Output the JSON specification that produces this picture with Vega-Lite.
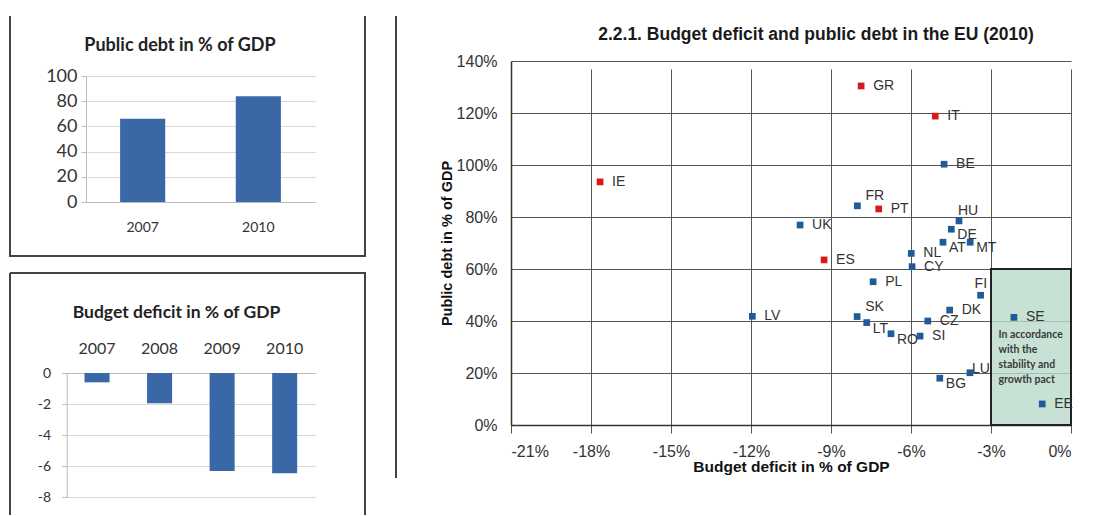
{
  "$schema": "https://vega.github.io/schema/vega-lite/v6.json",
  "background": "white",
  "padding": {"left": 9, "top": 15, "right": 0, "bottom": 0},
  "config": {"font": "Liberation Sans", "view": {"stroke": null}},
  "spacing": 29,
  "hconcat": [
    {
      "spacing": 15,
      "vconcat": [
        {
          "width": 355,
          "height": 240,
          "view": {"stroke": "#444", "strokeWidth": 2, "strokeDash": [835, 355], "strokeDashOffset": 835},
          "title": {"text": "Public debt in % of GDP", "font": "Lato", "fontSize": 18, "fontWeight": "bold", "color": "#222", "offset": -57, "baseline": "bottom", "dx": -7.5, "anchor": "middle", "frame": "group"},
          "data": {"values": [{"year": "2007", "debt": 66}, {"year": "2010", "debt": 84}]},
          "mark": {"type": "bar", "color": "#3a67a5"},
          "encoding": {
            "x": {"field": "year", "type": "nominal", "scale": {"range": [76, 305], "paddingInner": 0.61, "paddingOuter": 0.295},
              "axis": {"title": null, "labelAngle": 0, "orient": "bottom", "offset": -54, "ticks": false, "labelPadding": 18, "labelFont": "Lato", "labelFontSize": 14, "labelColor": "#333", "domainColor": "#bbb", "grid": false}},
            "y": {"field": "debt", "type": "quantitative", "scale": {"domain": [0, 100], "range": [186, 60], "nice": false},
              "axis": {"title": null, "values": [0, 20, 40, 60, 80, 100], "offset": -76, "tickSize": 5, "tickColor": "#bbb", "labelPadding": 4, "labelFont": "Lato", "labelFontSize": 18, "labelColor": "#333", "domainColor": "#bbb", "gridColor": "#d9d9d9"}}
          }
        },
        {
          "width": 355,
          "height": 242,
          "view": {"stroke": "#444", "strokeWidth": 2, "strokeDash": [597, 355, 242, 0]},
          "title": {"text": "Budget deficit in % of GDP", "font": "Lato", "fontSize": 17.5, "fontWeight": "bold", "color": "#222", "offset": -66, "baseline": "bottom", "dx": -11, "anchor": "middle", "frame": "group"},
          "data": {"values": [{"year": "2007", "deficit": -0.6}, {"year": "2008", "deficit": -1.95}, {"year": "2009", "deficit": -6.3}, {"year": "2010", "deficit": -6.45}]},
          "mark": {"type": "bar", "color": "#3a67a5"},
          "encoding": {
            "x": {"field": "year", "type": "nominal", "scale": {"range": [56.7, 305], "paddingInner": 0.6, "paddingOuter": 0.285},
              "axis": {"title": null, "labelAngle": 0, "orient": "top", "offset": -100, "ticks": false, "labelPadding": 17, "labelFont": "Lato", "labelFontSize": 16, "labelColor": "#333", "domainColor": "#bbb", "grid": false}},
            "y": {"field": "deficit", "type": "quantitative", "scale": {"domain": [-8, 0], "range": [224.3, 100], "nice": false},
              "axis": {"title": null, "values": [-8, -6, -4, -2, 0], "labelExpr": "toString(datum.value)", "offset": -56.7, "tickSize": 5, "tickColor": "#bbb", "labelPadding": 11, "labelFont": "Lato", "labelFontSize": 14, "labelColor": "#333", "domainColor": "#bbb", "gridColor": "#d9d9d9"}}
          }
        }
      ]
    },
    {
      "width": 718,
      "height": 462,
      "view": {"stroke": "#444", "strokeWidth": 2, "strokeDash": [462, 1898], "strokeDashOffset": 462},
      "title": {"text": "2.2.1. Budget deficit and public debt in the EU (2010)", "font": "Liberation Sans", "fontSize": 17.5, "fontWeight": "bold", "color": "#1a1a1a", "offset": -45, "baseline": "bottom", "dx": 61, "anchor": "middle", "frame": "group"},
      "encoding": {
        "x": {"field": "x", "type": "quantitative", "scale": {"domain": [-21, 0], "range": [115, 675], "nice": false, "zero": false},
          "axis": {"title": "Budget deficit in % of GDP", "values": [-21, -18, -15, -12, -9, -6, -3, 0], "labelExpr": "datum.value + '%'", "offset": -53, "tickSize": 5, "tickColor": "#555", "labelPadding": 13, "labelFontSize": 16, "labelColor": "#333", "titleFontSize": 15.5, "titleFontWeight": "bold", "titleColor": "#111", "titlePadding": 0, "domainColor": "#333", "domainWidth": 1.5, "gridColor": "#555", "gridWidth": 1}},
        "y": {"field": "y", "type": "quantitative", "scale": {"domain": [0, 140], "range": [409, 45], "nice": false, "zero": false},
          "axis": {"title": "Public debt in % of GDP", "values": [0, 20, 40, 60, 80, 100, 120, 140], "labelExpr": "datum.value + '%'", "offset": -115, "ticks": false, "labelPadding": 14, "labelFontSize": 16, "labelColor": "#333", "titleFontSize": 14.5, "titleFontWeight": "bold", "titleColor": "#111", "titlePadding": 2, "domainColor": "#333", "domainWidth": 1.5, "gridColor": "#555", "gridWidth": 1}}
      },
      "layer": [
        {
          "data": {"values": [{"x": -3, "x2": 0, "y": 0, "y2": 60}]},
          "mark": {"type": "rect", "fill": "#b9dbcb", "fillOpacity": 0.8, "stroke": "#222", "strokeWidth": 2},
          "encoding": {"x2": {"field": "x2"}, "y2": {"field": "y2"}}
        },
        {
          "data": {"values": [{"x": -2.72, "y": 36.5, "note": "In accordance\nwith the\nstability and\ngrowth pact"}]},
          "mark": {"type": "text", "align": "left", "baseline": "top", "lineBreak": "\n", "font": "Lato", "fontSize": 10.5, "fontWeight": "bold", "color": "#3a3a3a", "lineHeight": 15},
          "encoding": {"text": {"field": "note"}}
        },
        {
          "data": {"name": "eu"},
          "mark": {"type": "square", "size": 45, "opacity": 1},
          "encoding": {"color": {"field": "group", "type": "nominal", "scale": {"domain": ["high", "other"], "range": ["#d7191c", "#1f5b98"]}, "legend": null}}
        },
        {
          "data": {"name": "eu"},
          "transform": [{"filter": {"not": {"field": "code", "oneOf": ["FR", "SK", "HU", "FI", "LT", "AT", "RO", "BG", "MT", "DE", "LU"]}}}],
          "mark": {"type": "text", "align": "left", "baseline": "middle", "dx": 12, "fontSize": 14, "color": "#333"},
          "encoding": {"text": {"field": "code"}}
        },
        {
          "data": {"name": "eu"},
          "transform": [{"filter": {"field": "code", "oneOf": ["FR", "SK"]}}],
          "mark": {"type": "text", "align": "left", "baseline": "middle", "dx": 8, "dy": -10, "fontSize": 14, "color": "#333"},
          "encoding": {"text": {"field": "code"}}
        },
        {
          "data": {"name": "eu"},
          "transform": [{"filter": {"field": "code", "oneOf": ["HU"]}}],
          "mark": {"type": "text", "align": "left", "baseline": "middle", "dx": -1, "dy": -10, "fontSize": 14, "color": "#333"},
          "encoding": {"text": {"field": "code"}}
        },
        {
          "data": {"name": "eu"},
          "transform": [{"filter": {"field": "code", "oneOf": ["FI"]}}],
          "mark": {"type": "text", "align": "left", "baseline": "middle", "dx": -6, "dy": -11, "fontSize": 14, "color": "#333"},
          "encoding": {"text": {"field": "code"}}
        },
        {
          "data": {"name": "eu"},
          "transform": [{"filter": {"field": "code", "oneOf": ["LT", "AT", "RO", "BG", "MT", "DE"]}}],
          "mark": {"type": "text", "align": "left", "baseline": "middle", "dx": 6, "dy": 6, "fontSize": 14, "color": "#333"},
          "encoding": {"text": {"field": "code"}}
        },
        {
          "data": {"name": "eu"},
          "transform": [{"filter": {"field": "code", "oneOf": ["LU"]}}],
          "mark": {"type": "text", "align": "left", "baseline": "middle", "dx": 2, "dy": -4, "fontSize": 14, "color": "#333"},
          "encoding": {"text": {"field": "code"}}
        }
      ]
    }
  ],
  "datasets": {
    "eu": [
      {"code": "IE", "x": -17.66, "y": 93.5, "group": "high"},
      {"code": "GR", "x": -7.87, "y": 130.4, "group": "high"},
      {"code": "IT", "x": -5.09, "y": 118.8, "group": "high"},
      {"code": "BE", "x": -4.76, "y": 100.3, "group": "other"},
      {"code": "FR", "x": -8.01, "y": 84.3, "group": "other"},
      {"code": "PT", "x": -7.21, "y": 83.1, "group": "high"},
      {"code": "UK", "x": -10.16, "y": 76.9, "group": "other"},
      {"code": "HU", "x": -4.2, "y": 78.5, "group": "other"},
      {"code": "DE", "x": -4.49, "y": 75.3, "group": "other"},
      {"code": "AT", "x": -4.8, "y": 70.3, "group": "other"},
      {"code": "MT", "x": -3.78, "y": 70.3, "group": "other"},
      {"code": "NL", "x": -5.99, "y": 66.0, "group": "other"},
      {"code": "CY", "x": -5.96, "y": 60.9, "group": "other"},
      {"code": "ES", "x": -9.26, "y": 63.5, "group": "high"},
      {"code": "PL", "x": -7.42, "y": 55.1, "group": "other"},
      {"code": "FI", "x": -3.39, "y": 49.9, "group": "other"},
      {"code": "DK", "x": -4.55, "y": 44.2, "group": "other"},
      {"code": "SE", "x": -2.14, "y": 41.4, "group": "other"},
      {"code": "LV", "x": -11.95, "y": 41.8, "group": "other"},
      {"code": "SK", "x": -8.02, "y": 41.7, "group": "other"},
      {"code": "LT", "x": -7.66, "y": 39.4, "group": "other"},
      {"code": "CZ", "x": -5.37, "y": 40.0, "group": "other"},
      {"code": "RO", "x": -6.75, "y": 35.1, "group": "other"},
      {"code": "SI", "x": -5.66, "y": 34.2, "group": "other"},
      {"code": "LU", "x": -3.79, "y": 20.1, "group": "other"},
      {"code": "BG", "x": -4.92, "y": 18.0, "group": "other"},
      {"code": "EE", "x": -1.08, "y": 8.1, "group": "other"}
    ]
  }
}
